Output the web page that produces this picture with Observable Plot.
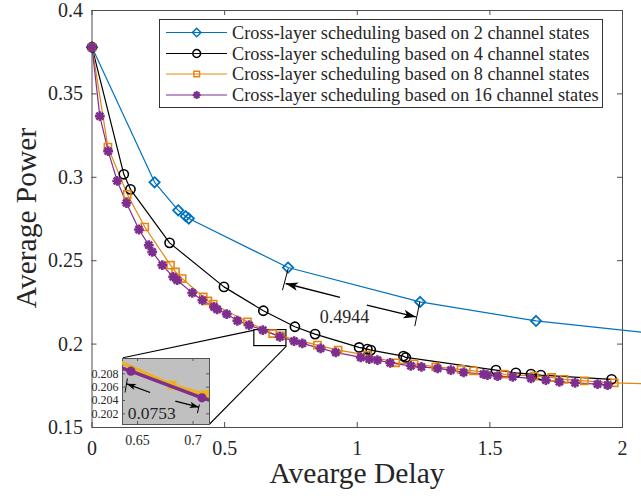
<!DOCTYPE html>
<html><head><meta charset="utf-8">
<script src="https://cdn.jsdelivr.net/npm/d3@7"></script>
<script src="https://cdn.jsdelivr.net/npm/@observablehq/plot@0.6"></script>
<style>
html,body{margin:0;padding:0;background:#fff;overflow:hidden}
#wrap{position:relative;width:641px;height:499px;overflow:hidden}
#inset{position:absolute;left:77px;top:358px}
</style></head><body><div id="wrap"><div id="main"></div><div id="inset"></div></div>
<script>
// ---- data ----
const delay2 = [0, 0.236, 0.325, 0.353, 0.365, 0.739, 1.237, 1.674, 2.3];
const power2 = [0.378, 0.297, 0.2802, 0.2767, 0.2753, 0.2459, 0.2253, 0.2139, 0.2033];

const delay4 = [0, 0.12, 0.145, 0.2925, 0.4975, 0.646, 0.765, 0.841, 1.007, 1.038, 1.051, 1.174, 1.183, 1.523, 1.598, 1.655, 1.692, 1.959];
const power4 = [0.378, 0.3018, 0.2928, 0.2607, 0.2343, 0.2200, 0.2104, 0.2060, 0.1980, 0.1970, 0.1964, 0.1928, 0.1920, 0.1844, 0.1828, 0.1820, 0.1814, 0.1789];

const delay8 = [0, 0.06, 0.133, 0.199, 0.296, 0.315, 0.340, 0.4195, 0.437, 0.457, 0.586, 0.681, 0.711, 0.85, 0.928, 1.038, 1.145, 1.214, 1.296, 1.391, 1.438, 1.554, 1.667, 1.733, 1.78, 1.856, 1.969, 2.3];
const power8 = [0.378, 0.3181, 0.2898, 0.2702, 0.2473, 0.2433, 0.2393, 0.2283, 0.2259, 0.2240, 0.2134, 0.2063, 0.2049, 0.1994, 0.1964, 0.1934, 0.1888, 0.1882, 0.1864, 0.1848, 0.1840, 0.1820, 0.1808, 0.1800, 0.1789, 0.1780, 0.1768, 0.1750];

const delay16 = [0, 0.0295, 0.061, 0.095, 0.130, 0.177, 0.214, 0.227, 0.265, 0.306, 0.321, 0.378, 0.416, 0.460, 0.472, 0.508, 0.548, 0.592, 0.644, 0.708, 0.762, 0.793, 0.862, 0.919, 1.013, 1.045, 1.076, 1.124, 1.202, 1.242, 1.303, 1.353, 1.401, 1.476, 1.491, 1.529, 1.586, 1.655, 1.711, 1.762, 1.821, 1.906, 1.944];
const power16 = [0.378, 0.3367, 0.3157, 0.2978, 0.2846, 0.2687, 0.2593, 0.2553, 0.2473, 0.2403, 0.2383, 0.2307, 0.2263, 0.2223, 0.2208, 0.2180, 0.2140, 0.2114, 0.2084, 0.2044, 0.2018, 0.2004, 0.1974, 0.1950, 0.1920, 0.1910, 0.1904, 0.1888, 0.1870, 0.1864, 0.1854, 0.1844, 0.1830, 0.1820, 0.1814, 0.1808, 0.1804, 0.1795, 0.1784, 0.1774, 0.1768, 0.1760, 0.1754];

const seriesNames = [
  "Cross-layer scheduling based on 2 channel states",
  "Cross-layer scheduling based on 4 channel states",
  "Cross-layer scheduling based on 8 channel states",
  "Cross-layer scheduling based on 16 channel states"
];
const seriesColors = ["#0072BD", "#000000", "#E8850E", "#7E2F8E"];
const insetColors = ["#EDB120", "#7E2F8E"];

const xTicks = [0, 0.5, 1, 1.5, 2];
const yTicks = [0.15, 0.2, 0.25, 0.3, 0.35, 0.4];
const xDomain = [0, 2];
const yDomain = [0.15, 0.4];
const xLabel = "Avearge Delay";
const yLabel = "Average Power";

const insetXTicks = [0.65, 0.7];
const insetYTicks = [0.202, 0.204, 0.206, 0.208];
const insetXDomain = [0.6364, 0.7148];
const insetYDomain = [0.2004, 0.2103];

// annotations (data coordinates)
const gapArrows = [
  {x1: 0.935, y1: 0.2280, x2: 0.730, y2: 0.2363},
  {x1: 1.036, y1: 0.2234, x2: 1.221, y2: 0.2163}
];
const gapTicks = [
  {x1: 0.740, y1: 0.2455, x2: 0.718, y2: 0.2323},
  {x1: 1.236, y1: 0.2253, x2: 1.217, y2: 0.2108}
];
const gapLabel = [{x: 0.952, y: 0.2163, text: "0.4944"}];
const zoomBox = [{x1: 0.612, x2: 0.733, y1: 0.1988, y2: 0.2084}];
const zoomLinks = [
  {x1: 0.612, y1: 0.2084, x2: 0.117, y2: 0.1918},
  {x1: 0.733, y1: 0.1988, x2: 0.4434, y2: 0.1521}
];
const insetArrows = [
  {x1: 0.6613, y1: 0.2052, x2: 0.6402, y2: 0.2065},
  {x1: 0.684, y1: 0.2039, x2: 0.7052, y2: 0.2030}
];
const insetTicksMarks = [
  {x1: 0.6408, y1: 0.2073, x2: 0.6387, y2: 0.2052},
  {x1: 0.7057, y1: 0.2034, x2: 0.7039, y2: 0.2021}
];
const insetLabel = [{x: 0.6411, y: 0.2021, text: "0.0753"}];

// ---- layout ----
const W = 641, H = 499, ML = 91.5, MR = 19, MT = 10, MB = 72;
const IW = 132, IH = 92, IML = 45, IMB = 26;

// ---- build rows ----
const allDelays = [delay2, delay4, delay8, delay16];
const allPowers = [power2, power4, power8, power16];
const rows = allDelays.map((ds, k) => ds.map((x, i) => ({s: k, x, y: allPowers[k][i]})));

const star8 = {
  draw(ctx, size) {
    const r = Math.sqrt(size / Math.PI);
    for (let k = 0; k < 4; k++) {
      const a = k * Math.PI / 4;
      ctx.moveTo(r * Math.cos(a), r * Math.sin(a));
      ctx.lineTo(-r * Math.cos(a), -r * Math.sin(a));
    }
  }
};
// filled barbed arrowhead, tip at origin pointing to +x
const barb = {
  draw(ctx, size) {
    const s = Math.sqrt(size / Math.PI);
    ctx.moveTo(0, 0);
    ctx.lineTo(-2.7 * s, 0.95 * s);
    ctx.lineTo(-2.0 * s, 0);
    ctx.lineTo(-2.7 * s, -0.95 * s);
    ctx.closePath();
  }
};
// screen-space angle of an arrow given pixel-per-unit factors
function headAngle(a, kx, ky) {
  return Math.atan2(-(a.y2 - a.y1) * ky, (a.x2 - a.x1) * kx) * 180 / Math.PI;
}
const mkx = (W - ML - MR) / (xDomain[1] - xDomain[0]);
const mky = (H - MT - MB) / (yDomain[1] - yDomain[0]);
const ikx = (IW - IML) / (insetXDomain[1] - insetXDomain[0]);
const iky = (IH - IMB) / (insetYDomain[1] - insetYDomain[0]);

const symbols = ["diamond2", "circle", "square", star8];
const markerR = [4.6, 4.6, 4.0, 4.9];
const markerSW = [1.8, 1.6, 1.6, 2.6];

const FONT = "Liberation Serif, Times New Roman, serif";
const AX = "#262626";

const marks = [
  Plot.frame({stroke: "#4d4d4d", strokeWidth: 1}),
  Plot.ruleX(xTicks, {x: d => d, y1: yDomain[0], y2: yDomain[0], insetBottom: 5, stroke: "#4d4d4d"}),
  Plot.ruleX(xTicks, {x: d => d, y1: yDomain[1], y2: yDomain[1], insetTop: 5, stroke: "#4d4d4d"}),
  Plot.ruleY(yTicks, {y: d => d, x1: xDomain[0], x2: xDomain[0], insetRight: -5, stroke: "#4d4d4d"}),
  Plot.ruleY(yTicks, {y: d => d, x1: xDomain[1], x2: xDomain[1], insetLeft: -5, stroke: "#4d4d4d"}),
  Plot.axisX({ticks: xTicks, tickSize: 0, tickPadding: 13, label: null, fontSize: 20, tickFormat: d => String(d)}),
  Plot.axisY({ticks: yTicks, tickSize: 0, tickPadding: 9, label: null, fontSize: 20, tickFormat: d => String(+d.toFixed(3))}),
  Plot.link(zoomLinks, {x1: "x1", y1: "y1", x2: "x2", y2: "y2", stroke: "black", strokeWidth: 1.1}),
  Plot.rect(zoomBox, {x1: "x1", x2: "x2", y1: "y1", y2: "y2", fill: "none", stroke: "black", strokeWidth: 1.2})
];
rows.forEach((r, k) => {
  marks.push(Plot.line(r, {x: "x", y: "y", stroke: seriesColors[k], strokeWidth: 1.2}));
});
rows.forEach((r, k) => {
  marks.push(Plot.dot(r.filter(d => d.x <= xDomain[1]), {x: "x", y: "y", symbol: () => symbols[k], r: markerR[k], stroke: seriesColors[k], fill: "none", strokeWidth: markerSW[k]}));
});
marks.push(
  Plot.link(gapTicks, {x1: "x1", y1: "y1", x2: "x2", y2: "y2", stroke: "black", strokeWidth: 1}),
  Plot.link(gapArrows, {x1: "x1", y1: "y1", x2: "x2", y2: "y2", stroke: "black", strokeWidth: 1.4}),
  Plot.dot(gapArrows, {x: "x2", y: "y2", symbol: () => barb, r: 4.6, fill: "black", stroke: "none", rotate: a => headAngle(a, mkx, mky)}),
  Plot.text(gapLabel, {x: "x", y: "y", text: "text", fontSize: 18, fill: AX, textAnchor: "middle", fontFamily: FONT})
);

const chart = Plot.plot({
  width: W, height: H,
  marginLeft: ML, marginRight: MR, marginTop: MT, marginBottom: MB,
  x: {domain: xDomain},
  y: {domain: yDomain},
  style: {fontFamily: FONT, fontSize: "20px", color: AX, background: "white", overflow: "hidden"},
  marks
});
document.getElementById("main").appendChild(chart);

// axis titles and legend (overlay in SVG pixel space)
const svg = d3.select(chart);
svg.append("text").attr("x", 357).attr("y", 483).attr("text-anchor", "middle")
  .attr("font-size", 29.5).attr("fill", AX).attr("font-family", FONT).text(xLabel);
svg.append("text").attr("transform", "translate(36,218) rotate(-90)").attr("text-anchor", "middle")
  .attr("font-size", 29.5).attr("fill", AX).attr("font-family", FONT).text(yLabel);

const lg = svg.append("g");
lg.append("rect").attr("x", 159.5).attr("y", 19.5).attr("width", 443).attr("height", 88)
  .attr("fill", "white").attr("stroke", "#333").attr("stroke-width", 1);
const rowY = [32.5, 53.5, 74, 95];
seriesNames.forEach((name, k) => {
  const y = rowY[k];
  lg.append("line").attr("x1", 166).attr("x2", 227).attr("y1", y).attr("y2", y)
    .attr("stroke", seriesColors[k]).attr("stroke-width", 1.2);
  const sym = [d3.symbolDiamond2, d3.symbolCircle, d3.symbolSquare, star8][k];
  const sz = [3.8, 3.9, 3.2, 4][k];
  lg.append("path").attr("transform", `translate(196.7,${y})`)
    .attr("d", d3.symbol(sym, Math.PI * sz * sz)())
    .attr("fill", "none").attr("stroke", seriesColors[k]).attr("stroke-width", k === 3 ? 2 : 1.5);
  lg.append("text").attr("x", 232).attr("y", y).attr("dy", "0.33em").attr("text-anchor", "start")
    .attr("font-size", 18.3).attr("fill", AX).attr("font-family", FONT).text(name);
});

// ---- inset ----
const insetRows = [rows[2], rows[3]];
const inset = Plot.plot({
  width: IW, height: IH,
  marginLeft: IML, marginRight: 0, marginTop: 0, marginBottom: IMB,
  x: {domain: insetXDomain},
  y: {domain: insetYDomain},
  style: {fontFamily: FONT, fontSize: "12px", color: AX, background: "transparent", overflow: "visible"},
  marks: [
    Plot.frame({fill: "#c0c0c0", stroke: "#555"}),
    Plot.ruleX(insetXTicks, {x: d => d, y1: insetYDomain[0], y2: insetYDomain[0], insetBottom: 3, stroke: "#555"}),
    Plot.ruleX(insetXTicks, {x: d => d, y1: insetYDomain[1], y2: insetYDomain[1], insetTop: 3, stroke: "#555"}),
    Plot.ruleY(insetYTicks, {y: d => d, x1: insetXDomain[0], x2: insetXDomain[0], insetRight: -3, stroke: "#555"}),
    Plot.ruleY(insetYTicks, {y: d => d, x1: insetXDomain[1], x2: insetXDomain[1], insetLeft: -3, stroke: "#555"}),
    Plot.axisX({ticks: insetXTicks, tickSize: 0, tickPadding: 11, label: null, fontSize: 14, tickFormat: d => String(d)}),
    Plot.axisY({ticks: insetYTicks, tickSize: 0, tickPadding: 4, label: null, fontSize: 12, tickFormat: d => d.toFixed(3)}),
    Plot.line(insetRows[0], {x: "x", y: "y", stroke: insetColors[0], strokeWidth: 3.5, clip: true}),
    Plot.dot(insetRows[0], {x: "x", y: "y", symbol: "square", r: 5, fill: insetColors[0], clip: true}),
    Plot.line(insetRows[1], {x: "x", y: "y", stroke: insetColors[1], strokeWidth: 3.5, clip: true}),
    Plot.dot(insetRows[1], {x: "x", y: "y", symbol: "circle", r: 4.6, fill: insetColors[1], clip: true}),
    Plot.link(insetTicksMarks, {x1: "x1", y1: "y1", x2: "x2", y2: "y2", stroke: "black", strokeWidth: 1}),
    Plot.link(insetArrows, {x1: "x1", y1: "y1", x2: "x2", y2: "y2", stroke: "black", strokeWidth: 1.3}),
    Plot.dot(insetArrows, {x: "x2", y: "y2", symbol: () => barb, r: 3.4, fill: "black", stroke: "none", rotate: a => headAngle(a, ikx, iky)}),
    Plot.text(insetLabel, {x: "x", y: "y", text: "text", fontSize: 17.5, fill: AX, textAnchor: "start", fontFamily: FONT})
  ]
});
document.getElementById("inset").appendChild(inset);
</script></body></html>
